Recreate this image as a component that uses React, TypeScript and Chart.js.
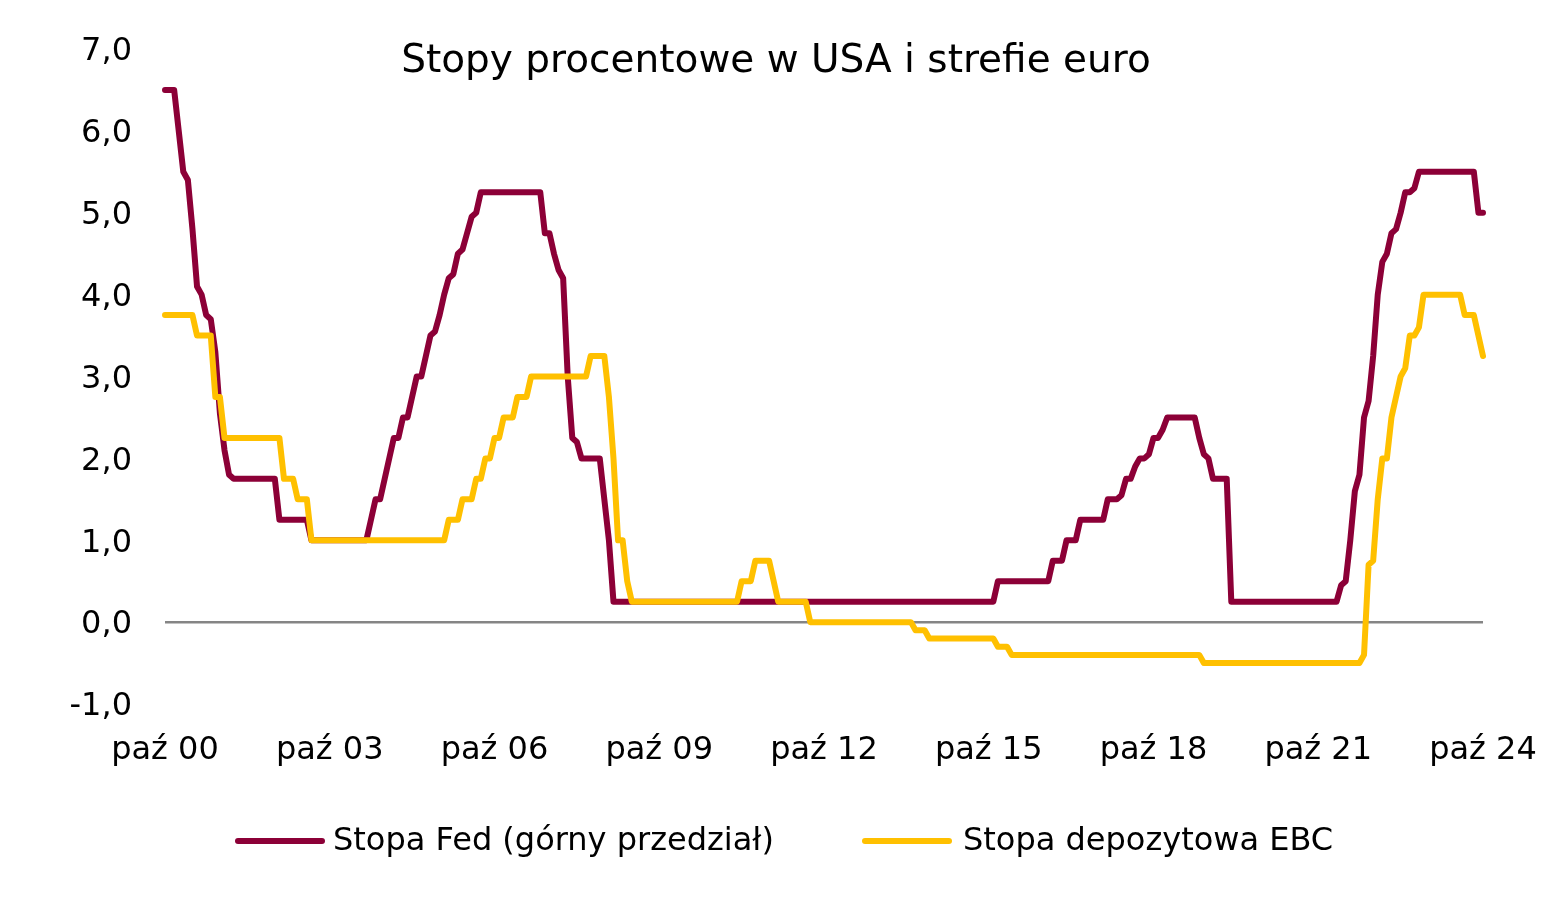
import React, { useEffect, useRef } from "react";
import { Chart, registerables } from "chart.js";

Chart.register(...registerables);

const FONT = '"DejaVu Sans", Verdana, sans-serif';

// Categories: months from Oct 2000 to Oct 2024
const monthNames = ["sty", "lut", "mar", "kwi", "maj", "cze", "lip", "sie", "wrz", "paź", "lis", "gru"];
const firstYear = 2000;
const firstMonth = 9;
const monthCount = 289;
const categories: string[] = [];
for (let i = 0; i < monthCount; i++) {
  const m = (firstMonth + i) % 12;
  const y = firstYear + Math.floor((firstMonth + i) / 12);
  categories.push(monthNames[m] + " " + String(y % 100).padStart(2, "0"));
}

const xTickLabels = ["paź 00", "paź 03", "paź 06", "paź 09", "paź 12", "paź 15", "paź 18", "paź 21", "paź 24"];
const yTicks = [-1, 0, 1, 2, 3, 4, 5, 6, 7];

const titleText = "Stopy procentowe w USA i strefie euro";
const seriesNames = ["Stopa Fed (górny przedział)", "Stopa depozytowa EBC"];
const seriesColors = ["#8C0037", "#FFC000"];

const fedRate = [
  // 2000 (paź-gru)
  6.5, 6.5, 6.5,
  // 2001
  6.0, 5.5, 5.4, 4.8, 4.1, 4.0, 3.75, 3.7, 3.3, 2.55, 2.1, 1.8,
  // 2002
  1.75, 1.75, 1.75, 1.75, 1.75, 1.75, 1.75, 1.75, 1.75, 1.75, 1.25, 1.25,
  // 2003
  1.25, 1.25, 1.25, 1.25, 1.25, 1.0, 1.0, 1.0, 1.0, 1.0, 1.0, 1.0,
  // 2004
  1.0, 1.0, 1.0, 1.0, 1.0, 1.0, 1.25, 1.5, 1.5, 1.75, 2.0, 2.25,
  // 2005
  2.25, 2.5, 2.5, 2.75, 3.0, 3.0, 3.25, 3.5, 3.55, 3.75, 4.0, 4.2,
  // 2006
  4.25, 4.5, 4.55, 4.75, 4.95, 5.0, 5.25, 5.25, 5.25, 5.25, 5.25, 5.25,
  // 2007
  5.25, 5.25, 5.25, 5.25, 5.25, 5.25, 5.25, 5.25, 4.75, 4.75, 4.5, 4.3,
  // 2008
  4.2, 3.0, 2.25, 2.2, 2.0, 2.0, 2.0, 2.0, 2.0, 1.5, 1.0, 0.25,
  // 2009
  0.25, 0.25, 0.25, 0.25, 0.25, 0.25, 0.25, 0.25, 0.25, 0.25, 0.25, 0.25,
  // 2010
  0.25, 0.25, 0.25, 0.25, 0.25, 0.25, 0.25, 0.25, 0.25, 0.25, 0.25, 0.25,
  // 2011
  0.25, 0.25, 0.25, 0.25, 0.25, 0.25, 0.25, 0.25, 0.25, 0.25, 0.25, 0.25,
  // 2012
  0.25, 0.25, 0.25, 0.25, 0.25, 0.25, 0.25, 0.25, 0.25, 0.25, 0.25, 0.25,
  // 2013
  0.25, 0.25, 0.25, 0.25, 0.25, 0.25, 0.25, 0.25, 0.25, 0.25, 0.25, 0.25,
  // 2014
  0.25, 0.25, 0.25, 0.25, 0.25, 0.25, 0.25, 0.25, 0.25, 0.25, 0.25, 0.25,
  // 2015
  0.25, 0.25, 0.25, 0.25, 0.25, 0.25, 0.25, 0.25, 0.25, 0.25, 0.25, 0.5,
  // 2016
  0.5, 0.5, 0.5, 0.5, 0.5, 0.5, 0.5, 0.5, 0.5, 0.5, 0.5, 0.75,
  // 2017
  0.75, 0.75, 1.0, 1.0, 1.0, 1.25, 1.25, 1.25, 1.25, 1.25, 1.25, 1.5,
  // 2018
  1.5, 1.5, 1.55, 1.75, 1.75, 1.9, 2.0, 2.0, 2.05, 2.25, 2.25, 2.35,
  // 2019
  2.5, 2.5, 2.5, 2.5, 2.5, 2.5, 2.5, 2.25, 2.05, 2.0, 1.75, 1.75,
  // 2020
  1.75, 1.75, 0.25, 0.25, 0.25, 0.25, 0.25, 0.25, 0.25, 0.25, 0.25, 0.25,
  // 2021
  0.25, 0.25, 0.25, 0.25, 0.25, 0.25, 0.25, 0.25, 0.25, 0.25, 0.25, 0.25,
  // 2022
  0.25, 0.25, 0.45, 0.5, 1.0, 1.6, 1.8, 2.5, 2.7, 3.25, 4.0, 4.4,
  // 2023
  4.5, 4.75, 4.8, 5.0, 5.25, 5.25, 5.3, 5.5, 5.5, 5.5, 5.5, 5.5,
  // 2024 (sty-paź)
  5.5, 5.5, 5.5, 5.5, 5.5, 5.5, 5.5, 5.5, 5.0, 5.0,
];

const ecbRate = [
  // 2000 (paź-gru)
  3.75, 3.75, 3.75,
  // 2001
  3.75, 3.75, 3.75, 3.75, 3.5, 3.5, 3.5, 3.5, 2.75, 2.75, 2.25, 2.25,
  // 2002
  2.25, 2.25, 2.25, 2.25, 2.25, 2.25, 2.25, 2.25, 2.25, 2.25, 2.25, 1.75,
  // 2003
  1.75, 1.75, 1.5, 1.5, 1.5, 1.0, 1.0, 1.0, 1.0, 1.0, 1.0, 1.0,
  // 2004
  1.0, 1.0, 1.0, 1.0, 1.0, 1.0, 1.0, 1.0, 1.0, 1.0, 1.0, 1.0,
  // 2005
  1.0, 1.0, 1.0, 1.0, 1.0, 1.0, 1.0, 1.0, 1.0, 1.0, 1.0, 1.25,
  // 2006
  1.25, 1.25, 1.5, 1.5, 1.5, 1.75, 1.75, 2.0, 2.0, 2.25, 2.25, 2.5,
  // 2007
  2.5, 2.5, 2.75, 2.75, 2.75, 3.0, 3.0, 3.0, 3.0, 3.0, 3.0, 3.0,
  // 2008
  3.0, 3.0, 3.0, 3.0, 3.0, 3.0, 3.25, 3.25, 3.25, 3.25, 2.75, 2.0,
  // 2009
  1.0, 1.0, 0.5, 0.25, 0.25, 0.25, 0.25, 0.25, 0.25, 0.25, 0.25, 0.25,
  // 2010
  0.25, 0.25, 0.25, 0.25, 0.25, 0.25, 0.25, 0.25, 0.25, 0.25, 0.25, 0.25,
  // 2011
  0.25, 0.25, 0.25, 0.5, 0.5, 0.5, 0.75, 0.75, 0.75, 0.75, 0.5, 0.25,
  // 2012
  0.25, 0.25, 0.25, 0.25, 0.25, 0.25, 0.0, 0.0, 0.0, 0.0, 0.0, 0.0,
  // 2013
  0.0, 0.0, 0.0, 0.0, 0.0, 0.0, 0.0, 0.0, 0.0, 0.0, 0.0, 0.0,
  // 2014
  0.0, 0.0, 0.0, 0.0, 0.0, -0.1, -0.1, -0.1, -0.2, -0.2, -0.2, -0.2,
  // 2015
  -0.2, -0.2, -0.2, -0.2, -0.2, -0.2, -0.2, -0.2, -0.2, -0.2, -0.2, -0.3,
  // 2016
  -0.3, -0.3, -0.4, -0.4, -0.4, -0.4, -0.4, -0.4, -0.4, -0.4, -0.4, -0.4,
  // 2017
  -0.4, -0.4, -0.4, -0.4, -0.4, -0.4, -0.4, -0.4, -0.4, -0.4, -0.4, -0.4,
  // 2018
  -0.4, -0.4, -0.4, -0.4, -0.4, -0.4, -0.4, -0.4, -0.4, -0.4, -0.4, -0.4,
  // 2019
  -0.4, -0.4, -0.4, -0.4, -0.4, -0.4, -0.4, -0.4, -0.5, -0.5, -0.5, -0.5,
  // 2020
  -0.5, -0.5, -0.5, -0.5, -0.5, -0.5, -0.5, -0.5, -0.5, -0.5, -0.5, -0.5,
  // 2021
  -0.5, -0.5, -0.5, -0.5, -0.5, -0.5, -0.5, -0.5, -0.5, -0.5, -0.5, -0.5,
  // 2022
  -0.5, -0.5, -0.5, -0.5, -0.5, -0.5, -0.5, -0.4, 0.7, 0.75, 1.5, 2.0,
  // 2023
  2.0, 2.5, 2.75, 3.0, 3.1, 3.5, 3.5, 3.6, 4.0, 4.0, 4.0, 4.0,
  // 2024 (sty-paź)
  4.0, 4.0, 4.0, 4.0, 4.0, 3.75, 3.75, 3.75, 3.5, 3.25,
];

if (fedRate.length !== monthCount || ecbRate.length !== monthCount) {
  throw new Error("Length mismatch: fed " + fedRate.length + ", ecb " + ecbRate.length);
}

const W = 1553;
const H = 901;
const PLOT_LEFT = 165;
const PLOT_RIGHT = 1483;
const PLOT_TOP = 49;
const PLOT_BOTTOM = 704;

const overlayPlugin = {
  id: "overlay",
  afterDraw(chart: any) {
    const ctx = chart.ctx as CanvasRenderingContext2D;
    ctx.save();
    // title
    ctx.fillStyle = "#000";
    ctx.font = "39px " + FONT;
    ctx.textAlign = "center";
    ctx.textBaseline = "middle";
    ctx.fillText(titleText, 776, 62);
    // legend
    const legendY = 841;
    const items = [
      { x1: 238, x2: 322, tx: 333 },
      { x1: 865, x2: 949, tx: 963 },
    ];
    ctx.font = "32px " + FONT;
    ctx.textAlign = "left";
    items.forEach((it, i) => {
      ctx.strokeStyle = seriesColors[i];
      ctx.lineWidth = 6;
      ctx.lineCap = "round";
      ctx.beginPath();
      ctx.moveTo(it.x1, legendY);
      ctx.lineTo(it.x2, legendY);
      ctx.stroke();
      ctx.fillStyle = "#000";
      ctx.fillText(seriesNames[i], it.tx, legendY + 1);
    });
    ctx.restore();
  },
};

export default function App() {
  const canvasRef = useRef<HTMLCanvasElement | null>(null);

  useEffect(() => {
    const canvas = canvasRef.current;
    if (!canvas) return;
    const chart = new Chart(canvas, {
      type: "line",
      data: {
        labels: categories,
        datasets: [
          {
            label: seriesNames[0],
            data: fedRate,
            borderColor: seriesColors[0],
            backgroundColor: seriesColors[0],
            borderWidth: 6,
            borderCapStyle: "round",
            borderJoinStyle: "round",
            pointRadius: 0,
            tension: 0,
            fill: false,
            order: 1,
          },
          {
            label: seriesNames[1],
            data: ecbRate,
            borderColor: seriesColors[1],
            backgroundColor: seriesColors[1],
            borderWidth: 6,
            borderCapStyle: "round",
            borderJoinStyle: "round",
            pointRadius: 0,
            tension: 0,
            fill: false,
            order: 0,
          },
        ],
      },
      options: {
        responsive: false,
        animation: false,
        events: [],
        layout: { padding: { top: PLOT_TOP, right: W - PLOT_RIGHT, bottom: 0, left: 0 } },
        plugins: {
          legend: { display: false },
          title: { display: false },
          tooltip: { enabled: false },
        },
        scales: {
          x: {
            type: "category",
            offset: false,
            grid: { display: false, drawTicks: false },
            border: { display: false },
            ticks: {
              autoSkip: false,
              maxRotation: 0,
              minRotation: 0,
              padding: 27,
              color: "#000",
              font: { family: FONT, size: 32 },
              callback: (_v: any, i: number) => (i % 36 === 0 ? xTickLabels[i / 36] : ""),
            },
            afterFit: (s: any) => {
              s.height = H - PLOT_BOTTOM;
              s.paddingLeft = 0;
              s.paddingRight = 0;
            },
          },
          y: {
            min: -1,
            max: 7,
            grid: {
              drawTicks: false,
              lineWidth: 2.5,
              color: (c: any) => (c.tick && c.tick.value === 0 ? "#858585" : "rgba(0,0,0,0)"),
            },
            border: { display: false },
            afterBuildTicks: (s: any) => {
              s.ticks = yTicks.map((v) => ({ value: v }));
            },
            ticks: {
              padding: 33,
              labelOffset: 3,
              color: "#000",
              font: { family: FONT, size: 32 },
              callback: (v: any) => Number(v).toFixed(1).replace(".", ","),
            },
            afterFit: (s: any) => {
              s.width = PLOT_LEFT;
              s.paddingTop = 0;
              s.paddingBottom = 0;
            },
          },
        },
      },
      plugins: [overlayPlugin],
    });
    return () => chart.destroy();
  }, []);

  return (
    <div style={{ position: "absolute", left: 0, top: 0, width: W, height: H, background: "#fff" }}>
      <canvas ref={canvasRef} width={W} height={H} style={{ width: W, height: H, display: "block" }} />
    </div>
  );
}
